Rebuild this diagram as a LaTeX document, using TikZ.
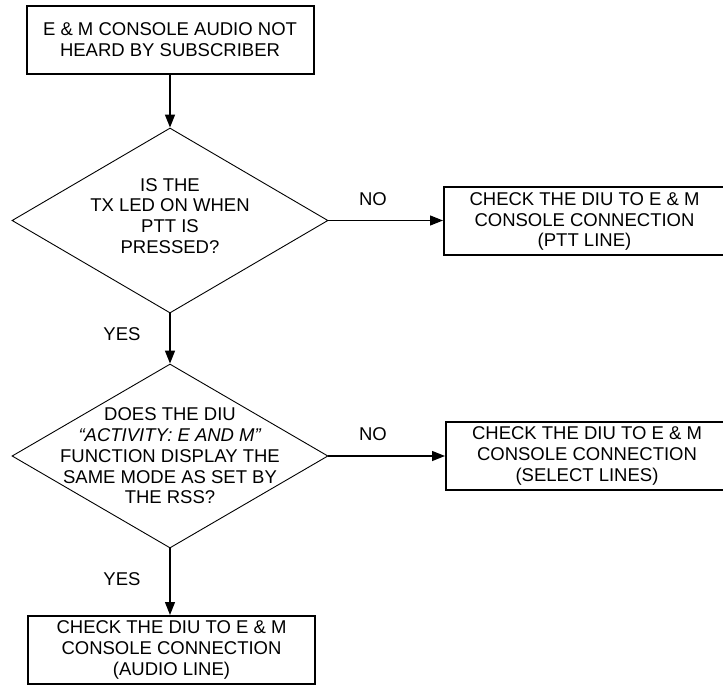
\documentclass[tikz,border=0pt]{standalone}
\usepackage{fontspec}
\setmainfont{Liberation Sans}
\usetikzlibrary{shapes.geometric,arrows.meta}
\begin{document}
\begin{tikzpicture}[x=1pt,y=-1pt,
  every node/.style={font=\fontsize{18.5}{20.8}\selectfont},
  box/.style={draw,line width=2pt,minimum width=#1,minimum height=68pt,inner sep=0pt,align=center},
  dia/.style={draw,diamond,line width=0.9pt,minimum width=316pt,minimum height=185pt,inner sep=0pt},
  txt/.style={align=center,inner sep=0pt},
  conn/.style={line width=1.4pt,-{Triangle[length=13pt,width=10pt]}}]
\useasboundingbox (0,0) rectangle (723,685);
\clip (0,0) rectangle (723,685);
\node[box=287pt] (start) at (170,40) {E \& M CONSOLE AUDIO NOT\\HEARD BY SUBSCRIBER};
\node[dia] (d1) at (170,220.5) {};
\node[txt] (t1) at (170,216) {IS THE\\TX LED ON WHEN\\PTT IS\\PRESSED?};
\node[box=300pt,anchor=west] (b2) at (443,220.5) {};
\node[txt] (t2b) at (584.5,221.5) {CHECK THE DIU TO E \& M\\CONSOLE CONNECTION\\(PTT LINE)};
\node[dia,minimum height=184pt] (d2) at (170,456) {};
\node[txt] (t2) at (170,456) {DOES THE DIU\\\textit{“ACTIVITY: E AND M”}\\FUNCTION DISPLAY THE\\SAME MODE AS SET BY\\THE RSS?};
\node[box=300pt,anchor=west] (b3) at (445,456) {};
\node[txt] (t3b) at (587,456) {CHECK THE DIU TO E \& M\\CONSOLE CONNECTION\\(SELECT LINES)};
\node[box=287pt] (b4) at (171.5,650) {CHECK THE DIU TO E \& M\\CONSOLE CONNECTION\\(AUDIO LINE)};
\node[txt] (no1) at (373,199) {NO};
\node[txt] (no2) at (373,434) {NO};
\node[txt] (yes1) at (122,334) {YES};
\node[txt] (yes2) at (122,579) {YES};
\draw[conn] (start.south) -- (d1.north);
\draw[conn] (d1.east) -- (b2.west);
\draw[conn] (d1.south) -- (d2.north);
\draw[conn] (d2.east) -- (b3.west);
\draw[conn] (d2.south) -- (b4.north -| d2.south);
\end{tikzpicture}
\end{document}
